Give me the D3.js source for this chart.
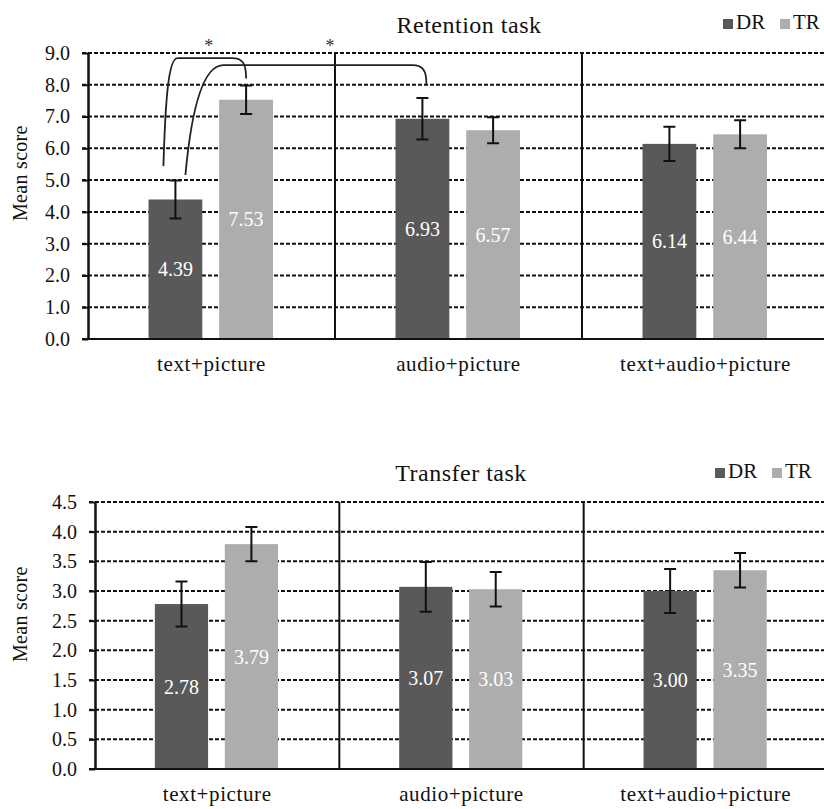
<!DOCTYPE html>
<html>
<head>
<meta charset="utf-8">
<script src="https://cdn.jsdelivr.net/npm/d3@7"></script>
<style>
  body { margin: 0; background: #fff; }
  svg { display: block; font-family: "Liberation Serif", "Times New Roman", serif; }
  .grid { stroke: #111; stroke-width: 2; stroke-dasharray: 4,2; }
  .sep { stroke: #111; stroke-width: 2; }
  .err { stroke: #111; stroke-width: 2; fill: none; }
  .sig { stroke: #222; stroke-width: 1.8; fill: none; }
  .val { fill: #fff; font-size: 20px; text-anchor: middle; }
  .cat { fill: #111; font-size: 21px; text-anchor: middle; letter-spacing: 0.6px; }
  .ttl { fill: #111; font-size: 24px; text-anchor: middle; letter-spacing: 0.5px; }
  .leg { fill: #111; font-size: 21px; }
  .ylab { fill: #111; font-size: 20px; text-anchor: middle; letter-spacing: 0.3px; }
  .tick text { fill: #111; font-size: 20px; font-family: "Liberation Serif", serif; }
</style>
</head>
<body>
<script>
// values
var categories = ['text+picture', 'audio+picture', 'text+audio+picture'];
var series = ['DR', 'TR'];
var colors = ['#595959', '#adadad'];

var retentionDR = [4.39, 6.93, 6.14];
var retentionTR = [7.53, 6.57, 6.44];
var retentionErrDR = [0.60, 0.65, 0.54];
var retentionErrTR = [0.45, 0.41, 0.44];
var retentionTicks = [0, 1, 2, 3, 4, 5, 6, 7, 8, 9];

var transferDR = [2.78, 3.07, 3.00];
var transferTR = [3.79, 3.03, 3.35];
var transferErrDR = [0.38, 0.42, 0.37];
var transferErrTR = [0.29, 0.29, 0.29];
var transferTicks = [0, 0.5, 1, 1.5, 2, 2.5, 3, 3.5, 4, 4.5];

// significance brackets (retention): start / top / end in score units
var sigBrackets = [
	{ from: 0, fromSeries: 'DR', to: 0, toSeries: 'TR', start: 5.44, top: 8.84, end: 8.20, label: '*' },
	{ from: 0, fromSeries: 'DR', to: 1, toSeries: 'DR', start: 5.16, top: 8.62, end: 8.02, label: '*' }
];

var svg = d3.select('body').append('svg')
	.attr('width', 824)
	.attr('height', 809);

function drawPanel(svg, opt) {
	var g = svg.append('g');
	var x0 = d3.scaleBand().domain(categories).range([opt.left, opt.right]);
	var bw = x0.bandwidth();
	var x1 = d3.scaleBand().domain(series).range([bw * 0.245, bw * 0.749]).paddingInner(0.239);
	var y = d3.scaleLinear().domain([0, opt.max]).range([opt.bottom, opt.top]);

	// dashed grid
	g.selectAll('line.grid')
		.data(opt.ticks.filter(function(t) { return t > 0; }))
		.enter().append('line')
		.attr('class', 'grid')
		.attr('x1', opt.left - 6)
		.attr('x2', opt.right)
		.attr('y1', function(d) { return y(d); })
		.attr('y2', function(d) { return y(d); });

	var rows = categories.map(function(c, i) {
		return [
			{ cat: c, s: 'DR', v: opt.dr[i], e: opt.errDR[i], color: colors[0] },
			{ cat: c, s: 'TR', v: opt.tr[i], e: opt.errTR[i], color: colors[1] }
		];
	});
	var flat = [].concat.apply([], rows);
	function cx(d) { return x0(d.cat) + x1(d.s) + x1.bandwidth() / 2; }

	g.selectAll('rect.bar')
		.data(flat)
		.enter().append('rect')
		.attr('class', 'bar')
		.attr('x', function(d) { return x0(d.cat) + x1(d.s); })
		.attr('width', x1.bandwidth())
		.attr('y', function(d) { return y(d.v); })
		.attr('height', function(d) { return y(0) - y(d.v); })
		.attr('fill', function(d) { return d.color; });

	var cap = 6;
	var err = g.selectAll('g.errbar').data(flat).enter().append('g');
	err.append('path')
		.attr('class', 'err')
		.attr('d', function(d) {
			var x = cx(d), y1 = y(d.v + d.e), y2 = y(d.v - d.e);
			return 'M' + (x - cap) + ',' + y1 + 'H' + (x + cap) +
				'M' + x + ',' + y1 + 'V' + y2 +
				'M' + (x - cap) + ',' + y2 + 'H' + (x + cap);
		});

	g.selectAll('text.val')
		.data(flat)
		.enter().append('text')
		.attr('class', 'val')
		.attr('x', cx)
		.attr('y', function(d) { return y(d.v / 2) + 7; })
		.text(function(d) { return d.v.toFixed(2); });

	// separators between groups
	g.selectAll('line.sep')
		.data(categories.slice(1))
		.enter().append('line')
		.attr('class', 'sep')
		.attr('x1', function(d) { return x0(d); })
		.attr('x2', function(d) { return x0(d); })
		.attr('y1', y(opt.max))
		.attr('y2', y(0));

	// x axis baseline
	g.append('line')
		.attr('class', 'sep')
		.attr('x1', opt.left - 6)
		.attr('x2', opt.right)
		.attr('y1', y(0))
		.attr('y2', y(0));

	var yAxis = d3.axisLeft(y)
		.tickValues(opt.ticks)
		.tickFormat(d3.format('.1f'))
		.tickSize(6)
		.tickSizeOuter(0)
		.tickPadding(12);
	var ya = g.append('g')
		.attr('transform', 'translate(' + opt.left + ',0)')
		.call(yAxis);
	ya.attr('font-family', null);
	ya.select('.domain').attr('stroke', '#111').attr('stroke-width', 2.5);
	ya.selectAll('.tick line').attr('stroke', '#111').attr('stroke-width', 2);

	g.selectAll('text.cat')
		.data(categories)
		.enter().append('text')
		.attr('class', 'cat')
		.attr('x', function(d) { return x0(d) + bw / 2; })
		.attr('y', y(0) + 32)
		.text(function(d) { return d; });

	g.append('text')
		.attr('class', 'ylab')
		.attr('transform', 'translate(' + 27 + ',' + y(opt.max * opt.ylabAt) + ') rotate(-90)')
		.text('Mean score');

	g.append('text')
		.attr('class', 'ttl')
		.attr('x', opt.titleX)
		.attr('y', opt.titleY)
		.text(opt.title);

	// legend
	var leg = g.selectAll('g.leg')
		.data(series)
		.enter().append('g')
		.attr('transform', function(d, i) { return 'translate(' + (opt.legX + i * 57) + ',' + opt.legY + ')'; });
	leg.append('rect')
		.attr('width', 10)
		.attr('height', 10)
		.attr('y', -10)
		.attr('fill', function(d, i) { return colors[i]; });
	leg.append('text')
		.attr('class', 'leg')
		.attr('x', 13)
		.attr('y', 0)
		.text(function(d) { return d; });

	return { x0: x0, x1: x1, y: y, g: g };
}

var retPanel = drawPanel(svg, {
	left: 88, right: 829, top: 53, bottom: 339, max: 9,
	ticks: retentionTicks, dr: retentionDR, tr: retentionTR,
	errDR: retentionErrDR, errTR: retentionErrTR,
	title: 'Retention task', titleX: 469, titleY: 33,
	legX: 723, legY: 29, ylabAt: 0.58
});

drawPanel(svg, {
	left: 95, right: 828, top: 502, bottom: 769, max: 4.5,
	ticks: transferTicks, dr: transferDR, tr: transferTR,
	errDR: transferErrDR, errTR: transferErrTR,
	title: 'Transfer task', titleX: 461, titleY: 481,
	legX: 715, legY: 478, ylabAt: 0.58
});

// significance brackets on the retention panel
function barCenter(p, gi, s) {
	return p.x0(categories[gi]) + p.x1(s) + p.x1.bandwidth() / 2;
}
sigBrackets.forEach(function(b, i) {
	var xs = barCenter(retPanel, b.from, b.fromSeries) + (i === 0 ? -12 : 10);
	var xe = barCenter(retPanel, b.to, b.toSeries) + (i === 0 ? 0 : 4);
	var ys = retPanel.y(b.start), yt = retPanel.y(b.top), ye = retPanel.y(b.end);
	var p = d3.path();
	p.moveTo(xs, ys);
	if (i === 0) {
		p.bezierCurveTo(xs + 2, ys - 66, xs + 5, yt, xs + 14, yt);
	} else {
		p.bezierCurveTo(xs + 5, ys - 55, xs + 15, yt, xs + 38, yt);
	}
	p.lineTo(xe - 14, yt);
	p.bezierCurveTo(xe - 3, yt, xe, yt + 6, xe, ye);
	retPanel.g.append('path').attr('class', 'sig').attr('d', p.toString());
	retPanel.g.append('text')
		.attr('x', i === 0 ? (xs + xe) / 2 + 4 : 330)
		.attr('y', retPanel.y(9) - 1)
		.attr('text-anchor', 'middle')
		.attr('font-size', 18)
		.attr('fill', '#333')
		.text(b.label);
});
</script>
</body>
</html>
